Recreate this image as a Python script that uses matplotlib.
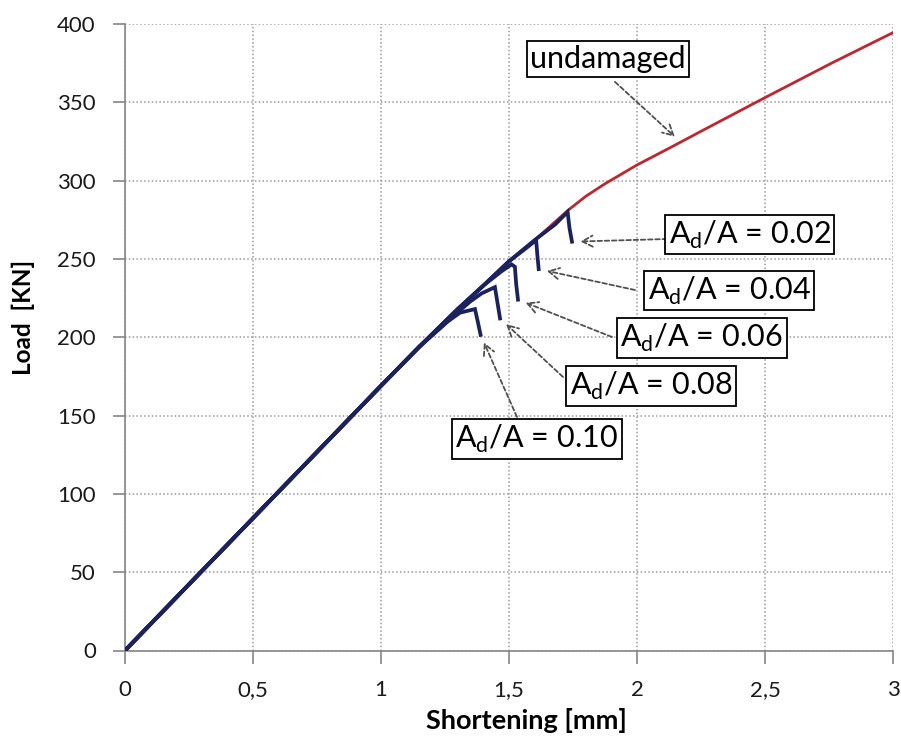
import matplotlib
matplotlib.use("Agg")
import matplotlib.pyplot as plt
import numpy as np

plt.rcParams['font.family'] = ['Lato', 'DejaVu Sans']

# Load-shortening curves
x_undamaged = [0, 0.25, 0.5, 0.75, 1.0, 1.15, 1.3, 1.4, 1.5, 1.6, 1.73, 1.8, 1.875, 2.0, 2.135, 2.25, 2.5, 2.76, 3.0]
load_undamaged = [0, 42, 84.5, 127, 169, 194, 218, 233, 248.5, 262, 281, 290, 298, 310, 321.5, 331.5, 353, 375, 394.5]

x_d002 = [0, 0.5, 1.0, 1.15, 1.3, 1.4, 1.5, 1.6, 1.68, 1.729, 1.736, 1.746]
load_d002 = [0, 84.5, 169, 194, 218, 233, 248.5, 262, 272, 280, 270, 261]

x_d004 = [0, 0.5, 1.0, 1.15, 1.3, 1.4, 1.5, 1.56, 1.606, 1.611, 1.616]
load_d004 = [0, 84.5, 169, 194, 218, 233, 248.5, 256, 262, 252, 243.5]

x_d006 = [0, 0.5, 1.0, 1.15, 1.3, 1.4, 1.47, 1.51, 1.523, 1.528, 1.535]
load_d006 = [0, 84.5, 169, 194, 218, 233, 242, 246.5, 245, 234, 224]

x_d008 = [0, 0.5, 1.0, 1.15, 1.3, 1.35, 1.393, 1.445, 1.455, 1.465]
load_d008 = [0, 84.5, 169, 194, 216, 223, 228, 232, 222, 212]

x_d010 = [0, 0.5, 1.0, 1.15, 1.26, 1.309, 1.367, 1.378, 1.389]
load_d010 = [0, 84.5, 169, 194, 210, 215.7, 218, 210, 201.5]

damage_ratios = ["0.02", "0.04", "0.06", "0.08", "0.10"]
damaged_x = [x_d002, x_d004, x_d006, x_d008, x_d010]
damaged_load = [load_d002, load_d004, load_d006, load_d008, load_d010]

x_ticks = [0, 0.5, 1, 1.5, 2, 2.5, 3]
x_tick_labels = ["0", "0,5", "1", "1,5", "2", "2,5", "3"]
y_ticks = [0, 50, 100, 150, 200, 250, 300, 350, 400]

red = '#C0262D'
navy = '#1B2260'
arrow_col = '#505050'
spine_col = '#868686'

fig = plt.figure(figsize=(9.01, 7.47), dpi=100)
ax = fig.add_axes([125 / 901, 1 - 650.5 / 747, 768 / 901, 626.5 / 747])

ax.plot(x_undamaged, load_undamaged, color=red, lw=2.0, solid_capstyle='round',
        solid_joinstyle='round', zorder=3)
for xs, ls in zip(damaged_x, damaged_load):
    ax.plot(xs, ls, color=navy, lw=2.7, solid_joinstyle='miter', zorder=4)

ax.set_xlim(0, 3)
ax.set_ylim(0, 400)
ax.set_xticks(x_ticks)
ax.set_xticklabels(x_tick_labels)
ax.set_yticks(y_ticks)

for s in ['top', 'right']:
    ax.spines[s].set_visible(False)
for s in ['left', 'bottom']:
    ax.spines[s].set_color(spine_col)
    ax.spines[s].set_linewidth(1.2)

ax.tick_params(axis='both', direction='out', length=9, width=1.2, color=spine_col,
               labelsize=16, labelcolor='#1a1a1a')
ax.tick_params(axis='x', pad=12)
ax.tick_params(axis='y', pad=12)

ax.grid(True, color='#9a9a9a', linestyle=(0, (1, 1.5)), linewidth=1.1, zorder=0)
ax.set_axisbelow(True)

fig.text(526.5 / 901, 1 - 729 / 747, "Shortening [mm]", ha='center', va='baseline',
         fontsize=19.5, fontweight='bold')
fig.text(23 / 901, 1 - 317 / 747, "Load  [KN]", ha='center', va='center', rotation=90,
         fontsize=17.5, fontweight='bold')

box = dict(boxstyle='square,pad=0.12', facecolor='white', edgecolor='black', linewidth=1.3)
arrow_kw = dict(arrowstyle='->,head_length=0.75,head_width=0.4', color=arrow_col,
                lw=1.3, linestyle=(0, (2.5, 1.5)), shrinkA=0)

# undamaged label
ax.text(0.6289, 0.9441, "undamaged", transform=ax.transAxes, ha='center', va='center',
        fontsize=22, bbox=box, zorder=6)
ax.annotate('', xy=(2.148, 328), xycoords='data', xytext=(0.638, 0.9076),
            textcoords='axes fraction', arrowprops=dict(arrow_kw, shrinkB=0), zorder=5)

# damaged labels, arrows point to the end of each drop
label_pos = [(0.8132, 0.6640), (0.7865, 0.5746), (0.7509, 0.4991), (0.6849, 0.4222), (0.5361, 0.3376)]
tail_pos = [(0.7057, 0.6568), (0.6641, 0.5754), (0.6341, 0.5004), (0.5703, 0.4366), (0.5104, 0.3727)]
for ratio, xs, ls, lp, tp in zip(damage_ratios, damaged_x, damaged_load, label_pos, tail_pos):
    ax.text(lp[0], lp[1], r"A$_\mathregular{d}$/A = " + ratio, transform=ax.transAxes,
            ha='center', va='center', fontsize=22, bbox=box, zorder=6)
    ax.annotate('', xy=(xs[-1], ls[-1]), xycoords='data', xytext=tp,
                textcoords='axes fraction', arrowprops=dict(arrow_kw, shrinkB=6), zorder=5)

fig.savefig("out.png", dpi=100, facecolor='white')
